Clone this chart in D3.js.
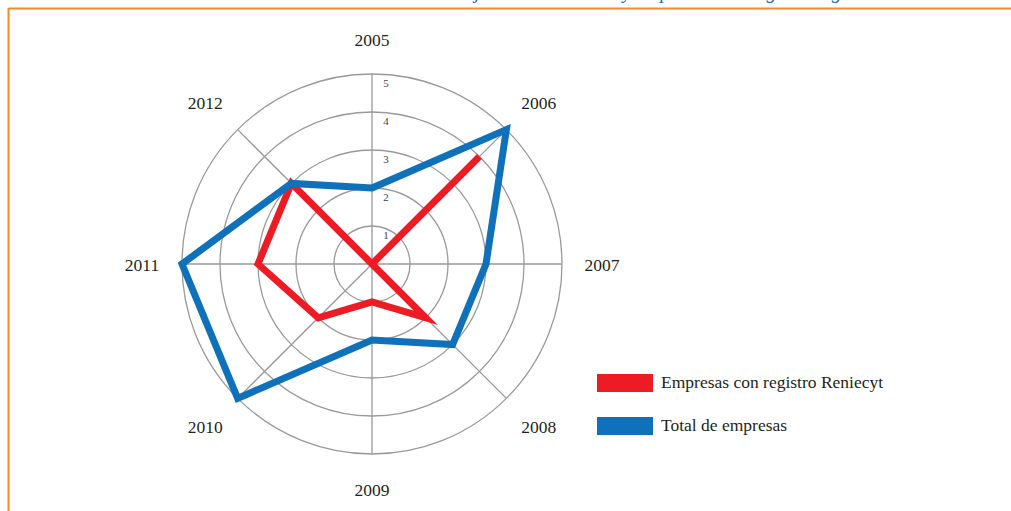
<!DOCTYPE html>
<html><head><meta charset="utf-8">
<script src="https://cdn.jsdelivr.net/npm/d3@7"></script>
<style>html,body{margin:0;padding:0;background:#fff;overflow:hidden}</style>
</head><body><svg id="c" width="1011" height="511"></svg>
<script>
const categories = ["2005","2006","2007","2008","2009","2010","2011","2012"];
const reniecyt = [0, 4, 0, 2, 1, 2, 3, 3];
const total = [2, 5, 3, 3, 2, 5, 5, 3];
const tickValues = [1, 2, 3, 4, 5];
const seriesNames = ["Empresas con registro Reniecyt", "Total de empresas"];
const titleText = "Total de entidades jóvenes del sector y empresas con registro vigente";

const svg = d3.select("#c");
const cx = 372, cy = 264, R = 190;
const r = d3.scaleLinear().domain([0, 5]).range([0, R]);
const step = 2*Math.PI/categories.length;
const a = i => i*step;
const sgn = v => Math.abs(v) < 1e-6 ? 0 : Math.sign(v);
const serif = "'Liberation Serif','DejaVu Serif',serif";

// frame
svg.append("line").attr("x1",8.5).attr("y1",8.5).attr("x2",1011).attr("y2",8.5).attr("stroke","#F58A2A").attr("stroke-width",2);
svg.append("line").attr("x1",8.5).attr("y1",8).attr("x2",8.5).attr("y2",511).attr("stroke","#F58A2A").attr("stroke-width",2);

// title (cropped at the top edge, as in the reference)
const title = svg.append("text").attr("x",0).attr("y",-2).attr("font-family",serif).attr("font-style","italic")
  .attr("font-size",20).attr("fill","#1F6DB3").text(titleText);
try {
  const idx = titleText.indexOf(" y ")+1;
  const p = title.node().getStartPositionOfChar(idx).x;
  title.attr("x", 623 - p);
} catch(e) { title.attr("x", 300); }

const g = svg.append("g").attr("transform",`translate(${cx},${cy})`);

// grid circles
g.selectAll("circle.grid").data(tickValues).join("circle").attr("class","grid")
  .attr("r", d => r(d)).attr("fill","none").attr("stroke","#9a9a9a").attr("stroke-width",1.3);
// spokes
g.selectAll("line.spoke").data(categories).join("line").attr("class","spoke")
  .attr("x1",0).attr("y1",0)
  .attr("x2",(d,i)=>R*Math.sin(a(i))).attr("y2",(d,i)=>-R*Math.cos(a(i)))
  .attr("stroke","#9a9a9a").attr("stroke-width",1.3);
// tick labels
g.selectAll("text.tick").data(tickValues).join("text").attr("class","tick")
  .attr("x",14).attr("y",d=>-r(d)+13).attr("text-anchor","middle")
  .attr("font-family",serif).attr("font-size",11).attr("fill","#444").text(d=>d);
// category labels
g.selectAll("text.cat").data(categories).join("text").attr("class","cat")
  .attr("x",(d,i)=>216*Math.sin(a(i)) + 14*sgn(Math.sin(a(i))))
  .attr("y",(d,i)=>-(216*Math.cos(a(i)) + 9*sgn(Math.cos(a(i)))) + 1)
  .attr("text-anchor","middle").attr("dominant-baseline","central")
  .attr("font-family",serif).attr("font-size",17.5).attr("fill","#231F20").text(d=>d);

const line = d3.lineRadial().angle((d,i)=>a(i)).radius(d=>r(d)).curve(d3.curveLinearClosed);
g.append("path").datum(reniecyt).attr("d",line).attr("fill","none").attr("stroke","#ED1C24")
  .attr("stroke-width",7).attr("stroke-linejoin","miter").attr("stroke-miterlimit",10);
g.append("path").datum(total).attr("d",line).attr("fill","none").attr("stroke","#0F71BA")
  .attr("stroke-width",7).attr("stroke-linejoin","miter").attr("stroke-miterlimit",10);

// legend
const colors = ["#ED1C24","#0F71BA"];
const lg = svg.append("g");
seriesNames.forEach((n,i)=>{
  const y0 = 374 + i*43;
  lg.append("rect").attr("x",597).attr("y",y0).attr("width",56).attr("height",18).attr("fill",colors[i]);
  lg.append("text").attr("x",661).attr("y",y0+14).attr("font-family",serif).attr("font-size",17.5)
    .attr("fill","#231F20").text(n);
});
</script></body></html>
